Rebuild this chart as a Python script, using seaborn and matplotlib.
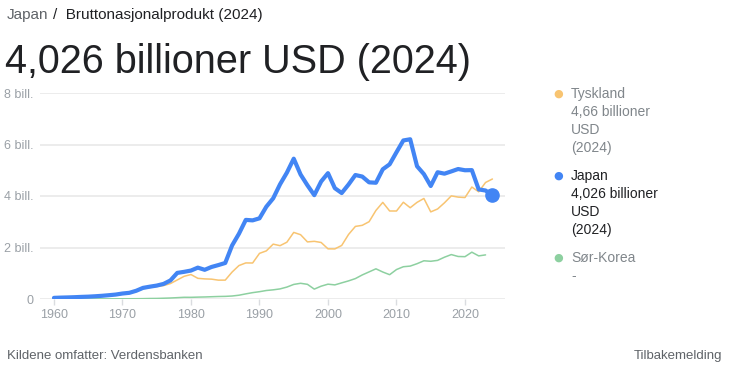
import numpy as np
import pandas as pd
import matplotlib
matplotlib.use("Agg")
import matplotlib.pyplot as plt
import seaborn as sns

# ---- data (trillion USD) ----
years_japan = list(range(1960, 2025))
japan = [0.044, 0.054, 0.061, 0.070, 0.082, 0.091, 0.106, 0.124, 0.147, 0.172,
         0.213, 0.240, 0.319, 0.432, 0.479, 0.521, 0.586, 0.721, 1.014, 1.055,
         1.105, 1.218, 1.134, 1.244, 1.318, 1.399, 2.079, 2.533, 3.072, 3.054,
         3.133, 3.584, 3.909, 4.454, 4.907, 5.449, 4.834, 4.415, 4.033, 4.563,
         4.888, 4.304, 4.115, 4.446, 4.815, 4.755, 4.530, 4.515, 5.038, 5.231,
         5.700, 6.157, 6.203, 5.156, 4.850, 4.389, 4.923, 4.867, 4.955, 5.048,
         5.000, 5.005, 4.256, 4.213, 4.026]

years_germany = list(range(1970, 2025))
germany = [0.216, 0.249, 0.300, 0.398, 0.446, 0.490, 0.520, 0.600, 0.740, 0.881,
           0.950, 0.803, 0.781, 0.771, 0.732, 0.733, 1.046, 1.298, 1.401, 1.398,
           1.772, 1.869, 2.131, 2.071, 2.206, 2.586, 2.497, 2.217, 2.240, 2.195,
           1.948, 1.945, 2.079, 2.506, 2.819, 2.861, 3.002, 3.440, 3.752, 3.418,
           3.417, 3.757, 3.544, 3.753, 3.904, 3.383, 3.496, 3.735, 4.005, 3.957,
           3.940, 4.348, 4.163, 4.525, 4.660]

years_korea = list(range(1960, 2024))
korea = [0.004, 0.002, 0.003, 0.004, 0.004, 0.003, 0.004, 0.005, 0.006, 0.008,
         0.009, 0.010, 0.011, 0.014, 0.020, 0.022, 0.030, 0.039, 0.052, 0.066,
         0.065, 0.073, 0.079, 0.088, 0.097, 0.102, 0.116, 0.147, 0.199, 0.247,
         0.284, 0.330, 0.356, 0.392, 0.463, 0.566, 0.610, 0.570, 0.384, 0.498,
         0.576, 0.548, 0.627, 0.703, 0.793, 0.934, 1.053, 1.172, 1.048, 0.944,
         1.144, 1.253, 1.278, 1.371, 1.484, 1.465, 1.500, 1.623, 1.725, 1.651,
         1.644, 1.818, 1.674, 1.713]

y_ticks = [0, 2, 4, 6, 8]
y_tick_labels = ["0", "2 bill.", "4 bill.", "6 bill.", "8 bill."]
x_ticks = [1960, 1970, 1980, 1990, 2000, 2010, 2020]

BLUE = "#4285F4"
ORANGE = "#F8C471"
GREEN = "#8DD0A0"

sns.set_theme(style="white")
plt.rcParams["font.family"] = ["Liberation Sans", "DejaVu Sans"]

fig = plt.figure(figsize=(7.33, 3.73), dpi=100)
ax = fig.add_axes([40/733, 1-299/373, (505-40)/733, (299-93)/373])

df_k = pd.DataFrame({"year": years_korea, "value": korea})
df_g = pd.DataFrame({"year": years_germany, "value": germany})
df_j = pd.DataFrame({"year": years_japan, "value": japan})

sns.lineplot(data=df_k, x="year", y="value", ax=ax, color=GREEN, linewidth=1.1, zorder=3)
sns.lineplot(data=df_g, x="year", y="value", ax=ax, color=ORANGE, linewidth=1.1, zorder=4)
sns.lineplot(data=df_j, x="year", y="value", ax=ax, color=BLUE, linewidth=3.0, zorder=5,
             solid_capstyle="round", solid_joinstyle="round")
ax.plot([years_japan[-1]], [japan[-1]], "o", color=BLUE, markersize=9.5, zorder=6)

ax.set_xlim(1957.96, 2025.84)
ax.set_ylim(0, 8)
ax.set_xlabel("")
ax.set_ylabel("")
for s in ax.spines.values():
    s.set_visible(False)
ax.set_yticks(y_ticks)
ax.set_yticklabels(y_tick_labels)
ax.grid(axis="y", color="#ebebeb", linewidth=1.3)
ax.set_axisbelow(True)
ax.tick_params(axis="y", length=0, pad=4.5, labelsize=9, labelcolor="#9aa0a6")
ax.set_xticks(x_ticks)
ax.set_xticklabels([str(x) for x in x_ticks])
ax.tick_params(axis="x", length=4, width=1, color="#dadce0", pad=3, labelsize=9,
               labelcolor="#9aa0a6", bottom=True)

# headers
fig.text(7/733, 1-15/373, "Japan", fontsize=11, color="#5f6368", va="center", ha="left")
fig.text(53/733, 1-15/373, "/  Bruttonasjonalprodukt (2024)", fontsize=11, color="#202124",
         va="center", ha="left")
fig.text(5/733, 1-62/373, "4,026 billioner USD (2024)", fontsize=28.5, color="#202124",
         va="center", ha="left")

# legend
def legend_block(y0, color, lines, tcolor):
    fig.text(558/733, 1-y0/373, "\u25CF", color=color, fontsize=8, va="center", ha="center",
             family="DejaVu Sans")
    for i, t in enumerate(lines):
        fig.text(571/733, 1-(y0 + 18*i)/373, t, fontsize=10, color=tcolor, va="center", ha="left")

legend_block(94, ORANGE, ["Tyskland", "4,66 billioner", "USD", "(2024)"], "#80868b")
legend_block(176, BLUE, ["Japan", "4,026 billioner", "USD", "(2024)"], "#202124")
legend_block(258, GREEN, ["Sør-Korea", "-"], "#80868b")

# footer
fig.text(7/733, 1-356/373, "Kildene omfatter: Verdensbanken", fontsize=9.5, color="#5f6368",
         va="center", ha="left")
fig.text(722/733, 1-356/373, "Tilbakemelding", fontsize=9.5, color="#5f6368",
         va="center", ha="right")

fig.savefig("out.png", dpi=100)
